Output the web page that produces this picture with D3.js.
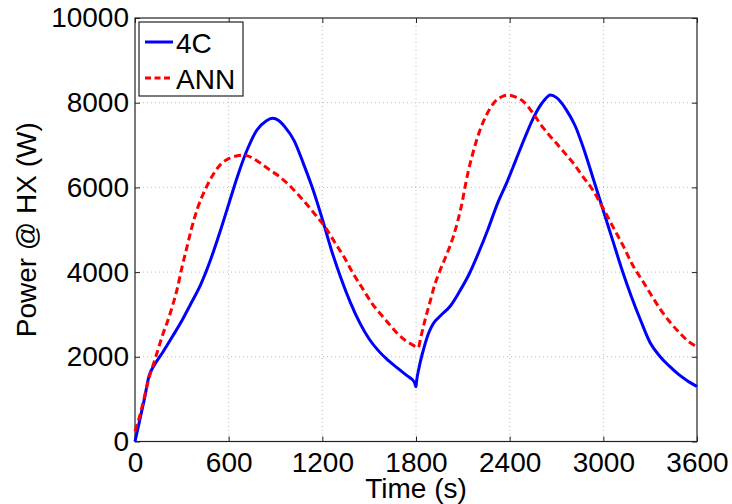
<!DOCTYPE html>
<html>
<head>
<meta charset="utf-8">
<script src="https://cdn.jsdelivr.net/npm/d3@7"></script>
<style>
  body { margin: 0; background: #fff; }
  svg { display: block; }
  text { font-family: "Liberation Sans", Arial, Helvetica, sans-serif; fill: #000; }
</style>
</head>
<body>
<div id="chart"></div>
<script>
// time stamps (s) and power (W)
const t4C = [0, 30, 60, 90, 120, 180, 240, 300, 360, 420, 480, 540, 600, 660, 720, 780, 840, 880, 920, 960,
  1020, 1080, 1140, 1200, 1260, 1320, 1380, 1440, 1500, 1560, 1620, 1680, 1740, 1790, 1800, 1803, 1820, 1850,
  1880, 1910, 1960, 2020, 2080, 2140, 2200, 2260, 2320, 2380, 2440, 2500, 2560, 2620, 2660, 2700, 2760, 2820,
  2880, 2940, 3000, 3060, 3120, 3180, 3240, 3300, 3360, 3420, 3480, 3540, 3600];
const p4C = [0, 500, 1000, 1550, 1780, 2120, 2480, 2850, 3270, 3700, 4250, 4900, 5600, 6300, 6900, 7350, 7570, 7630, 7580, 7430,
  7100, 6550, 5950, 5250, 4500, 3850, 3280, 2800, 2420, 2140, 1920, 1740, 1560, 1400, 1290, 1400, 1750, 2200,
  2550, 2780, 2980, 3200, 3550, 3950, 4450, 5000, 5600, 6100, 6650, 7200, 7700, 8050, 8180, 8120, 7850, 7450,
  6850, 6150, 5450, 4750, 4050, 3420, 2850, 2330, 2020, 1790, 1590, 1430, 1300];

const tANN = [0, 30, 60, 90, 120, 150, 180, 210, 240, 270, 300, 330, 360, 400, 450, 500, 550, 600, 650, 700,
  750, 800, 860, 920, 980, 1040, 1100, 1160, 1220, 1280, 1340, 1400, 1460, 1520, 1580, 1640, 1700, 1760, 1800, 1815,
  1830, 1860, 1890, 1920, 1950, 2000, 2040, 2090, 2130, 2160, 2200, 2250, 2300, 2350, 2390, 2440, 2490, 2550,
  2600, 2650, 2700, 2760, 2810, 2870, 2930, 3000, 3060, 3130, 3190, 3250, 3300, 3360, 3420, 3490, 3550, 3600];
const pANN = [250, 600, 1050, 1500, 1850, 2200, 2550, 2850, 3200, 3600, 4100, 4550, 5000, 5500, 5950, 6300, 6550, 6680, 6740, 6760,
  6700, 6580, 6420, 6270, 6080, 5850, 5600, 5330, 5050, 4700, 4350, 3950, 3600, 3250, 2980, 2720, 2480, 2320, 2240, 2220,
  2450, 2900, 3300, 3700, 4000, 4450, 4850, 5550, 6300, 6750, 7250, 7700, 8000, 8140, 8180, 8130, 8020, 7750,
  7480, 7250, 7040, 6780, 6560, 6250, 5950, 5500, 5080, 4600, 4150, 3800, 3500, 3150, 2850, 2560, 2350, 2240];

const xTicks = [0, 600, 1200, 1800, 2400, 3000, 3600];
const yTicks = [0, 2000, 4000, 6000, 8000, 10000];

const series = [
  { name: "4C", t: t4C, p: p4C, color: "#0000ff", dash: null },
  { name: "ANN", t: tANN, p: pANN, color: "#ff0000", dash: "7,4" }
];

const width = 732, height = 504;
const margin = { top: 18, right: 35, bottom: 62.5, left: 135 };
const iw = width - margin.left - margin.right;
const ih = height - margin.top - margin.bottom;

const svg = d3.select("#chart").append("svg")
  .attr("width", width)
  .attr("height", height);

const g = svg.append("g").attr("transform", `translate(${margin.left},${margin.top})`);

const x = d3.scaleLinear().domain([0, 3600]).range([0, iw]);
const y = d3.scaleLinear().domain([0, 10000]).range([ih, 0]);
const fmt = d3.format("d");

// grid
g.append("g").selectAll("line")
  .data(xTicks.slice(1, -1))
  .join("line")
  .attr("x1", d => x(d)).attr("x2", d => x(d))
  .attr("y1", 0).attr("y2", ih)
  .attr("stroke", "#bbb").attr("stroke-width", 1).attr("stroke-dasharray", "1,3");
g.append("g").selectAll("line")
  .data(yTicks.slice(1, -1))
  .join("line")
  .attr("y1", d => y(d)).attr("y2", d => y(d))
  .attr("x1", 0).attr("x2", iw)
  .attr("stroke", "#bbb").attr("stroke-width", 1).attr("stroke-dasharray", "1,3");

// axes, ticks pointing inward
const tk = 5;
g.append("g").attr("transform", `translate(0,${ih})`)
  .call(d3.axisBottom(x).tickValues(xTicks).tickFormat(fmt).tickSize(-tk).tickPadding(11).tickSizeOuter(0))
  .call(a => a.select(".domain").remove());
g.append("g").call(d3.axisTop(x).tickValues(xTicks).tickSize(-tk).tickFormat("").tickSizeOuter(0))
  .call(a => a.select(".domain").remove());
g.append("g")
  .call(d3.axisLeft(y).tickValues(yTicks).tickFormat(fmt).tickSize(-tk).tickPadding(6).tickSizeOuter(0))
  .call(a => a.select(".domain").remove());
g.append("g").attr("transform", `translate(${iw},0)`)
  .call(d3.axisRight(y).tickValues(yTicks).tickSize(-tk).tickFormat("").tickSizeOuter(0))
  .call(a => a.select(".domain").remove());

g.selectAll(".tick line").attr("stroke", "#222");
g.selectAll(".tick text")
  .attr("font-size", "28px")
  .attr("font-family", "'Liberation Sans', Arial, sans-serif")
  .attr("fill", "#000");

// frame
g.append("rect")
  .attr("width", iw).attr("height", ih)
  .attr("fill", "none").attr("stroke", "#222").attr("stroke-width", 1.2);

// lines
const line = d3.line().x(d => x(d[0])).y(d => y(d[1])).curve(d3.curveMonotoneX);
series.forEach(s => {
  g.append("path")
    .datum(s.t.map((tv, i) => [tv, s.p[i]]))
    .attr("fill", "none")
    .attr("stroke", s.color)
    .attr("stroke-width", 3)
    .attr("stroke-linejoin", "round")
    .attr("stroke-dasharray", s.dash)
    .attr("d", line);
});

// legend
const lg = svg.append("g").attr("transform", "translate(139,22)");
lg.append("rect")
  .attr("width", 104).attr("height", 74)
  .attr("fill", "#fff").attr("stroke", "#222").attr("stroke-width", 1.2);
series.forEach((s, i) => {
  const cy = 20 + i * 36;
  lg.append("line")
    .attr("x1", 6).attr("x2", 34).attr("y1", cy).attr("y2", cy)
    .attr("stroke", s.color).attr("stroke-width", 3)
    .attr("stroke-dasharray", s.dash ? "6,3.5" : null);
  lg.append("text")
    .attr("x", 37).attr("y", cy + 10.5)
    .attr("font-size", "28px")
    .text(s.name);
});

// axis titles
svg.append("text")
  .attr("x", margin.left + iw / 2).attr("y", 498)
  .attr("text-anchor", "middle")
  .attr("font-size", "28px")
  .text("Time (s)");
svg.append("text")
  .attr("transform", `translate(36,${margin.top + ih / 2}) rotate(-90)`)
  .attr("text-anchor", "middle")
  .attr("font-size", "28px")
  .text("Power @ HX (W)");
</script>
</body>
</html>
